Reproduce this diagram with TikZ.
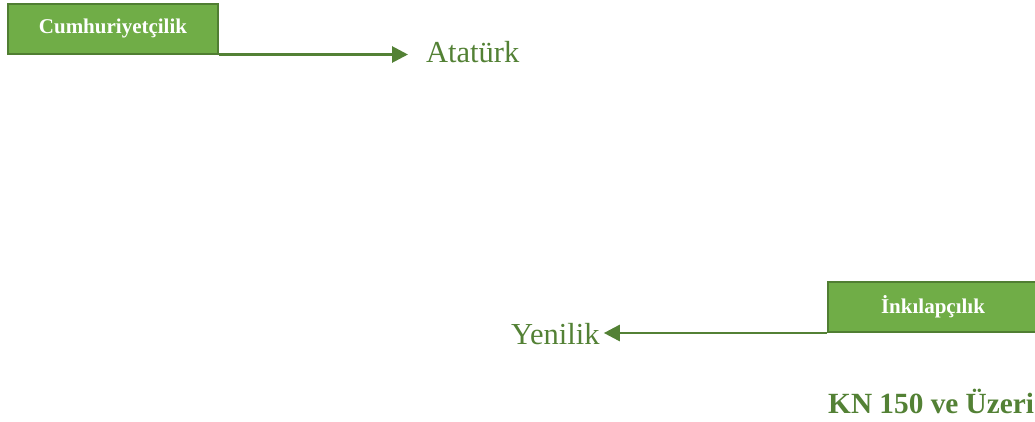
\documentclass[tikz,border=0pt]{standalone}
\usepackage{fontspec}
\setmainfont{Liberation Serif}
\usetikzlibrary{arrows.meta}
\definecolor{boxgreen}{HTML}{70AD47}
\definecolor{rimgreen}{HTML}{507E32}
\definecolor{textgreen}{HTML}{538135}
\begin{document}
\begin{tikzpicture}[x=1pt,y=-1pt,
  greenbox/.style={draw=rimgreen,line width=2pt,fill=boxgreen,text=white,
    font=\fontsize{21}{24}\selectfont\bfseries,minimum width=210pt,minimum height=50pt,inner sep=0pt},
  word/.style={text=textgreen,font=\fontsize{30.5}{34}\selectfont,inner sep=0pt},
  link/.style={draw=textgreen,line width=2.8pt,-{Triangle[length=16pt,width=16pt]}}]
\useasboundingbox (0,0) rectangle (1035,421);
\clip (0,0) rectangle (1035,421);

\node[greenbox] (cumh) at (113,28.5) {Cumhuriyetçilik};
\node[word,anchor=base west] (ata) at (426,62) {Atatürk};
\draw[link,shorten >=18pt] (cumh.south east) -- (cumh.south east -| ata.west);

\node[greenbox] (inki) at (933,307) {İnkılapçılık};
\node[word,anchor=base west] (yeni) at (511,344) {Yenilik};
\draw[link,shorten >=4pt] (inki.south west) -- (inki.south west -| yeni.east);

\node[word,font=\fontsize{29.3}{33}\selectfont\bfseries,anchor=base west] (kn) at (828,413) {KN 150 ve Üzeri};
\end{tikzpicture}
\end{document}
